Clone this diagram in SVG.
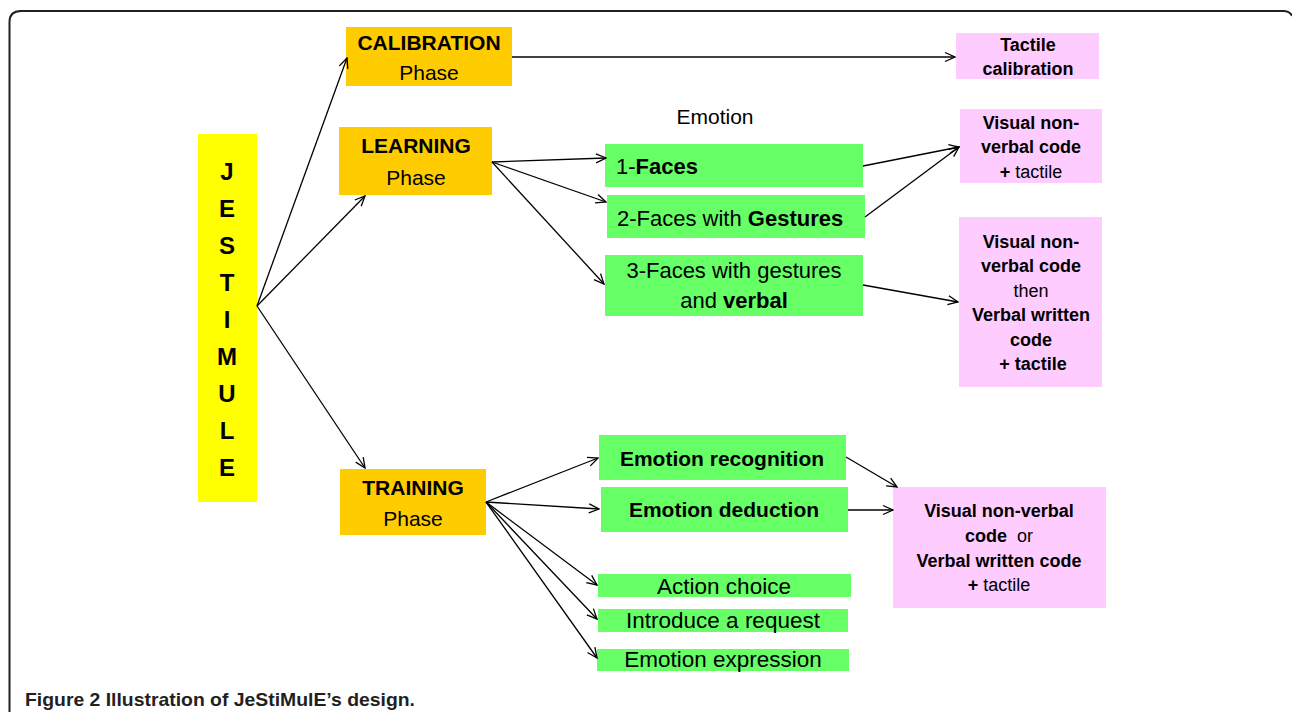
<svg xmlns="http://www.w3.org/2000/svg" width="1292" height="712" viewBox="0 0 1292 712">
<style>
text{font-family:"Liberation Sans",Arial,sans-serif;fill:#000}
.b{font-weight:bold}
.ph{font-size:21px;text-anchor:middle}
.g{font-size:22px}
.pk{font-size:18px;text-anchor:middle}
.c{text-anchor:middle}
.phase{fill:#FFCC00}
.green{fill:#66FF66}
.pink{fill:#FFCCFF}
.conn line{stroke:#000;stroke-width:1.3;fill:none;marker-end:url(#arr)}
</style>
<defs>
<marker id="arr" viewBox="0 0 12 12" refX="11" refY="6" markerWidth="12" markerHeight="12" markerUnits="userSpaceOnUse" orient="auto">
<path d="M1,1.5 L11,6 L1,10.5" fill="none" stroke="#000" stroke-width="1.3"/>
</marker>
</defs>
<rect width="1292" height="712" fill="#fff"/>
<path d="M9.5,712 V22 Q9.5,11 21,11 H1283 Q1290,11 1292,16" fill="none" stroke="#231f20" stroke-width="2"/>

<g id="jestimule">
<rect x="198" y="134" width="59" height="368" fill="#FFFF00"/>
<g class="b c" font-size="24">
<text x="227" y="180" class="b c" font-size="24">J</text>
<text x="227" y="217" class="b c" font-size="24">E</text>
<text x="227" y="254" class="b c" font-size="24">S</text>
<text x="227" y="291" class="b c" font-size="24">T</text>
<text x="227" y="328" class="b c" font-size="24">I</text>
<text x="227" y="365" class="b c" font-size="24">M</text>
<text x="227" y="402" class="b c" font-size="24">U</text>
<text x="227" y="439" class="b c" font-size="24">L</text>
<text x="227" y="476" class="b c" font-size="24">E</text>
</g>
</g>

<g id="calibration">
<rect class="phase" x="346" y="27" width="166" height="59"/>
<text class="ph b" x="429" y="50">CALIBRATION</text>
<text class="ph" x="429" y="80">Phase</text>
</g>
<g id="learning">
<rect class="phase" x="339" y="127" width="153" height="68"/>
<text class="ph b" x="416" y="153">LEARNING</text>
<text class="ph" x="416" y="185">Phase</text>
</g>
<g id="training">
<rect class="phase" x="340" y="469" width="146" height="66"/>
<text class="ph b" x="413" y="495">TRAINING</text>
<text class="ph" x="413" y="526">Phase</text>
</g>

<g id="tactile-calibration">
<rect class="pink" x="956" y="33" width="143" height="46"/>
<text class="pk b" x="1028" y="51">Tactile</text>
<text class="pk b" x="1028" y="75">calibration</text>
</g>

<g id="emotion-label">
<text x="715" y="124" font-size="21" class="c">Emotion</text>
</g>

<g id="faces1">
<rect class="green" x="605" y="144" width="258" height="43"/>
<text class="g" x="616" y="174">1-<tspan class="b">Faces</tspan></text>
</g>
<g id="faces2">
<rect class="green" x="607" y="195" width="258" height="43"/>
<text class="g" x="617" y="226">2-Faces with <tspan class="b">Gestures</tspan></text>
</g>
<g id="faces3">
<rect class="green" x="605" y="255" width="258" height="61"/>
<text class="g c" x="734" y="278">3-Faces with gestures</text>
<text class="g c" x="734" y="308">and <tspan class="b">verbal</tspan></text>
</g>

<g id="visual1">
<rect class="pink" x="960" y="109" width="142" height="74"/>
<text class="pk b" x="1031" y="129">Visual non-</text>
<text class="pk b" x="1031" y="153">verbal code</text>
<text class="pk" x="1031" y="178"><tspan class="b">+</tspan> tactile</text>
</g>
<g id="visual2">
<rect class="pink" x="959" y="217" width="143" height="170"/>
<text class="pk b" x="1031" y="248">Visual non-</text>
<text class="pk b" x="1031" y="272">verbal code</text>
<text class="pk" x="1031" y="297">then</text>
<text class="pk b" x="1031" y="321">Verbal written</text>
<text class="pk b" x="1031" y="346">code</text>
<text class="pk b" x="1033" y="370">+ tactile</text>
</g>

<g id="emotion-recognition">
<rect class="green" x="599" y="435" width="247" height="45"/>
<text class="b c" font-size="21" x="722" y="466">Emotion recognition</text>
</g>
<g id="emotion-deduction">
<rect class="green" x="601" y="487" width="247" height="45"/>
<text class="b c" font-size="21" x="724" y="517">Emotion deduction</text>
</g>
<g id="action-choice">
<rect class="green" x="598" y="574" width="253" height="23"/>
<text class="c" font-size="22.5" x="724" y="594">Action choice</text>
</g>
<g id="introduce-request">
<rect class="green" x="598" y="609" width="250" height="23"/>
<text class="c" font-size="22.5" x="723" y="628">Introduce a request</text>
</g>
<g id="emotion-expression">
<rect class="green" x="597" y="649" width="252" height="22"/>
<text class="c" font-size="22.5" x="723" y="667">Emotion expression</text>
</g>

<g id="visual3">
<rect class="pink" x="893" y="487" width="213" height="121"/>
<text class="pk b" x="999" y="517">Visual non-verbal</text>
<text class="pk" x="999" y="542" xml:space="preserve"><tspan class="b">code</tspan>  or</text>
<text class="pk b" x="999" y="567">Verbal written code</text>
<text class="pk" x="999" y="591"><tspan class="b">+</tspan> tactile</text>
</g>

<g id="connectors" class="conn">
<line x1="257" y1="306" x2="347" y2="58"/>
<line x1="257" y1="306" x2="365" y2="196"/>
<line x1="257" y1="306" x2="365" y2="468"/>
<line x1="512" y1="57" x2="955" y2="57"/>
<line x1="492" y1="162" x2="606" y2="158"/>
<line x1="492" y1="162" x2="606" y2="202"/>
<line x1="492" y1="162" x2="604" y2="284"/>
<line x1="863" y1="166" x2="959" y2="147"/>
<line x1="865" y1="217" x2="959" y2="147"/>
<line x1="863" y1="285" x2="958" y2="302"/>
<line x1="486" y1="502" x2="598" y2="458"/>
<line x1="486" y1="502" x2="599" y2="509"/>
<line x1="486" y1="502" x2="597" y2="585"/>
<line x1="486" y1="502" x2="597" y2="619"/>
<line x1="486" y1="502" x2="597" y2="658"/>
<line x1="846" y1="457" x2="897" y2="487"/>
<line x1="848" y1="510" x2="893" y2="510"/>
</g>

<text x="25" y="706" font-size="19" class="b" style="fill:#231f20" textLength="390" lengthAdjust="spacingAndGlyphs">Figure 2 <tspan font-weight="600">Illustration of JeStiMulE’s design.</tspan></text>
</svg>
